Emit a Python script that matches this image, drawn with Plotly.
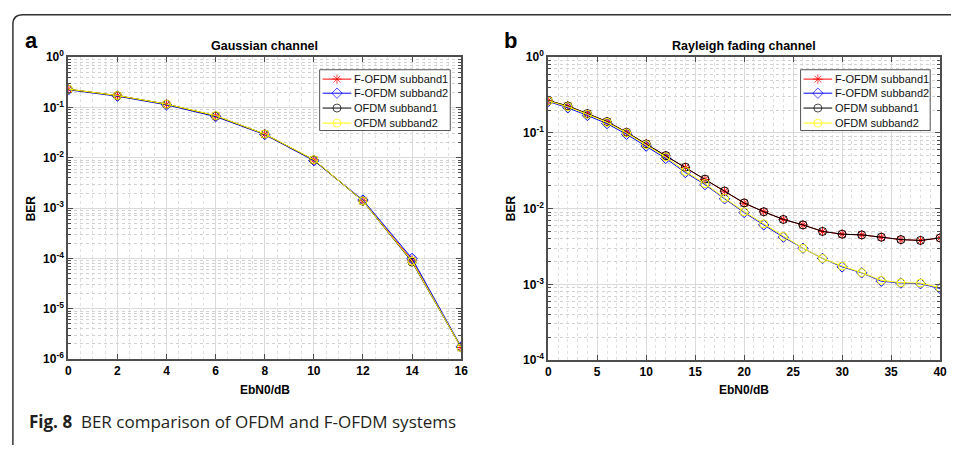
import plotly.graph_objects as go

# ---- data: BER vs Eb/N0 ----
ebn0_awgn = [0, 2, 4, 6, 8, 10, 12, 14, 16]
awgn_fofdm_sb1 = [0.230, 0.172, 0.116, 0.068, 0.0295, 0.0091, 0.00140, 9.2e-5, 1.70e-6]
awgn_fofdm_sb2 = [0.225, 0.168, 0.113, 0.066, 0.0290, 0.0088, 0.00145, 1.0e-4, 1.75e-6]
awgn_ofdm_sb1 = [0.231, 0.172, 0.117, 0.068, 0.0297, 0.0091, 0.00138, 8.5e-5, 1.70e-6]
awgn_ofdm_sb2 = [0.232, 0.173, 0.117, 0.069, 0.0298, 0.0092, 0.00139, 8.8e-5, 1.70e-6]

ebn0_ray = [0, 2, 4, 6, 8, 10, 12, 14, 16, 18, 20, 22, 24, 26, 28, 30, 32, 34, 36, 38, 40]
ray_fofdm_sb1 = [0.267, 0.226, 0.179, 0.141, 0.102, 0.0714, 0.050, 0.035, 0.0243, 0.0170,
                 0.0118, 0.0091, 0.0072, 0.0061, 0.0050, 0.0046, 0.0045, 0.0042, 0.0039, 0.0038, 0.0041]
ray_fofdm_sb2 = [0.260, 0.215, 0.170, 0.133, 0.096, 0.067, 0.046, 0.0300, 0.0208, 0.0135,
                 0.0089, 0.0061, 0.0042, 0.0030, 0.0022, 0.0017, 0.00142, 0.00110, 0.00104, 0.00102, 0.00088]
ray_ofdm_sb1 = [0.268, 0.227, 0.180, 0.141, 0.102, 0.0716, 0.0502, 0.0352, 0.0245, 0.0171,
                0.0119, 0.0091, 0.0072, 0.0061, 0.0050, 0.0046, 0.0045, 0.0042, 0.0039, 0.0038, 0.0041]
ray_ofdm_sb2 = [0.265, 0.222, 0.176, 0.138, 0.100, 0.070, 0.048, 0.031, 0.0214, 0.0138,
                0.0091, 0.0063, 0.0043, 0.0030, 0.0022, 0.00174, 0.00143, 0.00113, 0.00105, 0.00104, 0.00090]

series_names = ["F-OFDM subband1", "F-OFDM subband2", "OFDM subband1", "OFDM subband2"]
series_colors = ["#ff0000", "#0000ff", "#000000", "#ffff00"]
series_symbols = ["asterisk-open", "diamond-open", "circle-open", "circle-open"]

W, H = 956, 450
FONT = "Liberation Sans, Arial, sans-serif"
MARKER_SIZE = 8


def px(x):
    return x / W


def py(y):
    return 1 - y / H


fig = go.Figure()

panels = [
    (ebn0_awgn, [awgn_fofdm_sb1, awgn_fofdm_sb2, awgn_ofdm_sb1, awgn_ofdm_sb2], "x", "y"),
    (ebn0_ray, [ray_fofdm_sb1, ray_fofdm_sb2, ray_ofdm_sb1, ray_ofdm_sb2], "x2", "y2"),
]
for xs, ys_all, xa, ya in panels:
    for name, color, sym, ys in zip(series_names, series_colors, series_symbols, ys_all):
        fig.add_trace(go.Scatter(
            x=xs, y=ys, name=name, mode="lines+markers", showlegend=False,
            line=dict(color=color, width=1),
            marker=dict(symbol=sym, size=MARKER_SIZE, color=color, line=dict(color=color, width=1)),
            xaxis=xa, yaxis=ya,
        ))

# ---- boxed legends drawn on a full-figure pixel overlay (x3/y3) ----
legend_boxes = [(320, 63, 452, 126), (806, 63, 937, 126)]
legend_rows = [72.7, 87.3, 102.7, 118.3]
for bx0, by0, bx1, by1 in legend_boxes:
    fig.add_trace(go.Scatter(
        x=[bx0, bx1, bx1, bx0, bx0], y=[by0, by0, by1, by1, by0], mode="lines",
        fill="toself", fillcolor="white", line=dict(color="#555555", width=1),
        showlegend=False, hoverinfo="skip", xaxis="x3", yaxis="y3"))
    lx0, lx1 = bx0 + 3, bx0 + 32
    for name, color, sym, yc in zip(series_names, series_colors, series_symbols, legend_rows):
        fig.add_trace(go.Scatter(
            x=[lx0, (lx0 + lx1) / 2, lx1], y=[yc, yc, yc], mode="lines+markers",
            line=dict(color=color, width=1),
            marker=dict(symbol=sym, size=[0, MARKER_SIZE, 0], color=color,
                        line=dict(color=color, width=1)),
            showlegend=False, hoverinfo="skip", xaxis="x3", yaxis="y3"))
        fig.add_annotation(text=name, x=px(lx1 + 1), y=py(yc), xref="paper", yref="paper",
                           showarrow=False, xanchor="left", yanchor="middle",
                           font=dict(family=FONT, size=11, color="#111111"))


def log_ticks(lo, hi):
    vals = [10.0 ** k for k in range(lo, hi + 1)]
    text = ["<b>10<sup>%d</sup></b>" % k for k in range(lo, hi + 1)]
    minor = [m * 10.0 ** k for k in range(lo, hi) for m in range(2, 10)]
    return vals, text, minor


axis_common = dict(
    showline=True, linecolor="#4d4d4d", linewidth=2, mirror="ticks",
    ticks="inside", ticklen=5, tickcolor="#4d4d4d",
    showgrid=True, gridcolor="#dadada", gridwidth=1, zeroline=False,
    tickfont=dict(family=FONT, size=12, color="#000000"),
)

ya_vals, ya_text, ya_minor = log_ticks(-6, 0)
yb_vals, yb_text, yb_minor = log_ticks(-4, 0)

fig.update_layout(
    width=W, height=H, margin=dict(l=0, r=0, t=0, b=0),
    paper_bgcolor="white", plot_bgcolor="rgba(0,0,0,0)", showlegend=False,
    xaxis=dict(domain=[px(66), px(463)], range=[0, 16], tickmode="array",
               tickvals=list(range(0, 17, 2)), ticktext=["<b>%d</b>" % v for v in range(0, 17, 2)],
               anchor="y",
               minor=dict(tickmode="array", tickvals=[v * 0.5 for v in range(0, 33) if v % 4],
                          showgrid=True, gridcolor="#e0e0e0", griddash="dot", ticks=""),
               **axis_common),
    yaxis=dict(domain=[py(363), py(50)], type="log", range=[-6, 0], tickmode="array",
               tickvals=ya_vals, ticktext=ya_text, anchor="x",
               minor=dict(tickmode="array", tickvals=ya_minor, showgrid=True,
                          gridcolor="#d2d2d2", griddash="dot", ticks="inside", ticklen=3,
                          tickcolor="#4d4d4d"),
               **axis_common),
    xaxis2=dict(domain=[px(551), px(947)], range=[0, 40], tickmode="array",
                tickvals=list(range(0, 41, 5)), ticktext=["<b>%d</b>" % v for v in range(0, 41, 5)],
                anchor="y2",
                minor=dict(tickmode="array", tickvals=[v for v in range(0, 41) if v % 5],
                           showgrid=True, gridcolor="#e0e0e0", griddash="dot", ticks=""),
                **axis_common),
    yaxis2=dict(domain=[py(364), py(50)], type="log", range=[-4, 0], tickmode="array",
                tickvals=yb_vals, ticktext=yb_text, anchor="x2",
                minor=dict(tickmode="array", tickvals=yb_minor, showgrid=True,
                           gridcolor="#d2d2d2", griddash="dot", ticks="inside", ticklen=3,
                           tickcolor="#4d4d4d"),
                **axis_common),
    xaxis3=dict(domain=[0, 1], range=[0, W], visible=False, anchor="y3", fixedrange=True),
    yaxis3=dict(domain=[0, 1], range=[H, 0], visible=False, anchor="x3", fixedrange=True),
)

# panel titles, axis titles and panel letters
texts = [
    ("<b>Gaussian channel</b>", 264.5, 38, 12.5, 0),
    ("<b>Rayleigh fading channel</b>", 749, 38, 12.5, 0),
    ("<b>EbN0/dB</b>", 264.5, 395, 12, 0),
    ("<b>EbN0/dB</b>", 749, 395, 12, 0),
    ("<b>BER</b>", 28, 207, 12, -90),
    ("<b>BER</b>", 513, 207, 12, -90),
    ("<b>a</b>", 29, 33, 22, 0),
    ("<b>b</b>", 513, 33, 22, 0),
]
for txt, x, y, size, ang in texts:
    fig.add_annotation(text=txt, x=px(x), y=py(y), xref="paper", yref="paper",
                       showarrow=False, textangle=ang, xanchor="center", yanchor="middle",
                       font=dict(family=FONT, size=size, color="#000000"))

# figure caption
fig.add_annotation(
    text="<b>Fig. 8</b>  BER comparison of OFDM and F-OFDM systems",
    x=px(24), y=py(428), xref="paper", yref="paper", showarrow=False,
    xanchor="left", yanchor="middle",
    font=dict(family="Open Sans, Noto Sans, sans-serif", size=17, color="#231f20"))

# outer frame with rounded top-left corner
fig.add_shape(
    type="path", xref="paper", yref="paper",
    path="M %f %f L %f %f Q %f %f %f %f L %f %f" % (
        px(10), py(452), px(10), py(16), px(10), py(6), px(20), py(6), px(958), py(6)),
    line=dict(color="#333333", width=1.5))

fig.write_html("out.html")
